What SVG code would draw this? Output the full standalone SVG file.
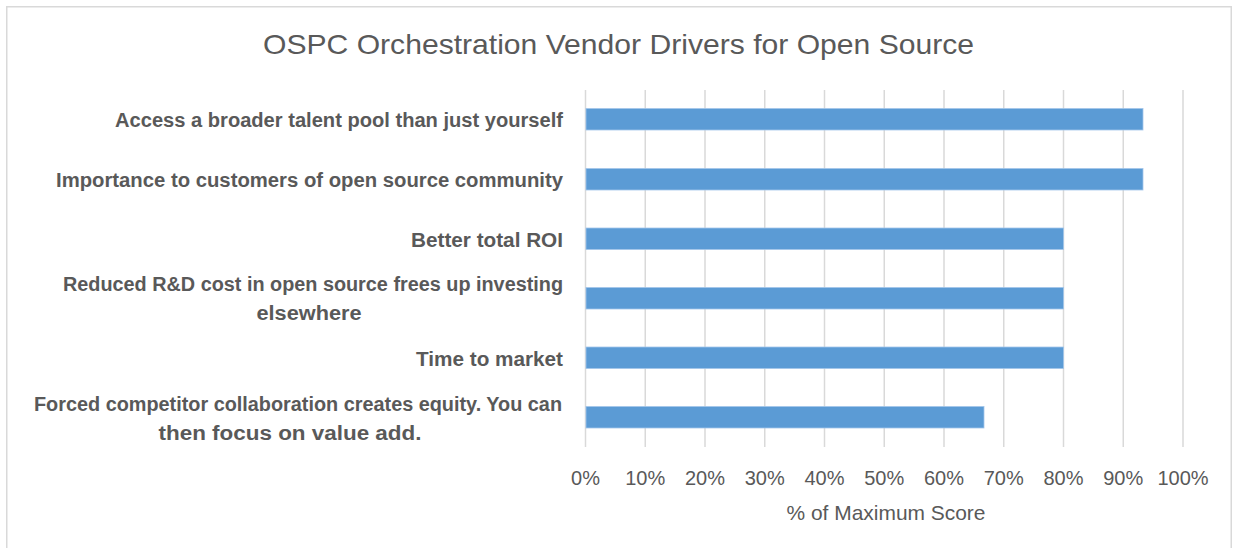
<svg xmlns="http://www.w3.org/2000/svg" width="1233" height="548" viewBox="0 0 1233 548">
  <style>
    .frame { fill: #ffffff; stroke: #d9d9d9; stroke-width: 1.5; }
    .grid { stroke: #d9d9d9; stroke-width: 1.5; }
    .bar { fill: #5b9bd5; stroke: #a3c6ea; stroke-width: 0.8; }
    .title { font-family: "Liberation Sans", Arial, sans-serif; font-size: 28px; fill: #595959; }
    .cat { font-family: "Liberation Sans", Arial, sans-serif; font-size: 20px; font-weight: bold; fill: #595959; }
    .tick { font-family: "Liberation Sans", Arial, sans-serif; font-size: 20px; fill: #595959; text-anchor: middle; }
    .axis-title { font-family: "Liberation Sans", Arial, sans-serif; font-size: 21px; fill: #595959; text-anchor: middle; }
  </style>

  <!-- chart area frame (runs off the bottom edge) -->
  <rect class="frame" x="6.75" y="6.75" width="1224.5" height="570"/>

  <!-- title -->
  <text class="title" x="618.5" y="53.5" text-anchor="middle" textLength="711" lengthAdjust="spacingAndGlyphs">OSPC Orchestration Vendor Drivers for Open Source</text>

  <!-- vertical gridlines, 0% to 100% -->
  <g id="gridlines">
    <line class="grid" x1="585.5" y1="90" x2="585.5" y2="447"/>
    <line class="grid" x1="645.25" y1="90" x2="645.25" y2="447"/>
    <line class="grid" x1="705" y1="90" x2="705" y2="447"/>
    <line class="grid" x1="764.75" y1="90" x2="764.75" y2="447"/>
    <line class="grid" x1="824.5" y1="90" x2="824.5" y2="447"/>
    <line class="grid" x1="884.25" y1="90" x2="884.25" y2="447"/>
    <line class="grid" x1="944" y1="90" x2="944" y2="447"/>
    <line class="grid" x1="1003.75" y1="90" x2="1003.75" y2="447"/>
    <line class="grid" x1="1063.5" y1="90" x2="1063.5" y2="447"/>
    <line class="grid" x1="1123.25" y1="90" x2="1123.25" y2="447"/>
    <line class="grid" x1="1183" y1="90" x2="1183" y2="447"/>
  </g>

  <!-- category rows: label + bar -->
  <g id="row-talent-pool">
    <text class="cat" x="563" y="127" text-anchor="end" textLength="448" lengthAdjust="spacingAndGlyphs">Access a broader talent pool than just yourself</text>
    <rect class="bar" x="586" y="108.5" width="557" height="21.5"/>
  </g>
  <g id="row-customers">
    <text class="cat" x="563" y="187" text-anchor="end" textLength="507" lengthAdjust="spacingAndGlyphs">Importance to customers of open source community</text>
    <rect class="bar" x="586" y="168.5" width="557" height="21.5"/>
  </g>
  <g id="row-roi">
    <text class="cat" x="563" y="246.5" text-anchor="end" textLength="152" lengthAdjust="spacingAndGlyphs">Better total ROI</text>
    <rect class="bar" x="586" y="228" width="477.5" height="21.5"/>
  </g>
  <g id="row-rd-cost">
    <text class="cat" x="563" y="291" text-anchor="end" textLength="500" lengthAdjust="spacingAndGlyphs">Reduced R&amp;D cost in open source frees up investing</text>
    <text class="cat" x="309" y="320" text-anchor="middle" textLength="105" lengthAdjust="spacingAndGlyphs">elsewhere</text>
    <rect class="bar" x="586" y="287.5" width="477.5" height="21.5"/>
  </g>
  <g id="row-time-to-market">
    <text class="cat" x="563" y="365.5" text-anchor="end" textLength="147" lengthAdjust="spacingAndGlyphs">Time to market</text>
    <rect class="bar" x="586" y="347" width="477.5" height="21.5"/>
  </g>
  <g id="row-competitor">
    <text class="cat" x="562" y="411" text-anchor="end" textLength="528" lengthAdjust="spacingAndGlyphs">Forced competitor collaboration creates equity. You can</text>
    <text class="cat" x="290" y="440" text-anchor="middle" textLength="263" lengthAdjust="spacingAndGlyphs">then focus on value add.</text>
    <rect class="bar" x="586" y="406.5" width="398" height="21.5"/>
  </g>

  <!-- horizontal axis labels -->
  <g id="x-axis">
    <text class="tick" x="585.5" y="485">0%</text>
    <text class="tick" x="645.25" y="485">10%</text>
    <text class="tick" x="705" y="485">20%</text>
    <text class="tick" x="764.75" y="485">30%</text>
    <text class="tick" x="824.5" y="485">40%</text>
    <text class="tick" x="884.25" y="485">50%</text>
    <text class="tick" x="944" y="485">60%</text>
    <text class="tick" x="1003.75" y="485">70%</text>
    <text class="tick" x="1063.5" y="485">80%</text>
    <text class="tick" x="1123.25" y="485">90%</text>
    <text class="tick" x="1183" y="485">100%</text>
    <text class="axis-title" x="886" y="519.5" textLength="199" lengthAdjust="spacingAndGlyphs">% of Maximum Score</text>
  </g>
</svg>
